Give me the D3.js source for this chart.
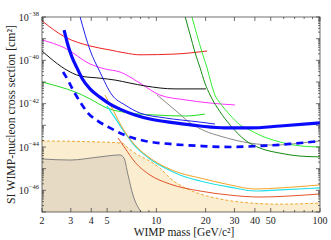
<!DOCTYPE html>
<html>
<head>
<meta charset="utf8">
<script src="https://cdn.jsdelivr.net/npm/d3@7"></script>
<style>
body { margin: 0; background: #fff; }
text { font-family: "Liberation Serif", "DejaVu Serif", serif; fill: #222; }
</style>
</head>
<body>
<div id="canvas"></div>
<script>
// limits, [mass GeV, sigma cm^2]
const red = [[2.0,6.6e-39],[2.76,1.2e-39],[3.93,4.6e-40],[5.21,3.0e-40],[6.43,2.2e-40],[7.94,1.8e-40],[13.0,1.95e-40],[20.4,2.7e-40]];
const magenta = [[2.0,8.7e-40],[2.76,3.7e-40],[3.93,6.8e-41],[4.85,4.0e-41],[5.99,2.9e-41],[7.94,8.9e-42],[10.5,2.5e-42],[15.0,1.5e-42],[21.3,1.07e-42],[30.2,8.7e-43]];
const black = [[2.0,2.7e-40],[2.24,1.29e-40],[2.76,4.0e-41],[3.42,1.9e-41],[4.52,1.5e-41],[5.59,1.23e-41],[6.90,8.9e-42],[8.52,6.6e-42],[13.0,4.8e-42],[20.1,4.8e-42]];
const green = [[2.0,1.0e-41],[2.58,5.9e-42],[3.18,3.5e-42],[3.93,1.66e-42],[4.99,6.3e-43],[6.90,3.7e-43],[9.81,3.0e-43],[15.0,2.7e-43],[19.8,3.3e-43]];
const blueThin = [[3.42,1.0e-38],[3.93,3.0e-40],[4.52,2.9e-41],[5.36,2.5e-42],[6.43,8.7e-43],[7.94,3.7e-43],[11.3,2.2e-43],[18.5,1.41e-43],[22.8,1.15e-43]];
const blueThick = [[2.73,2.5e-39],[2.88,5.1e-40],[3.05,1.41e-40],[3.27,4.5e-41],[3.51,1.5e-41],[3.93,4.8e-42],[4.52,2.0e-42],[5.21,9.5e-43],[5.99,5.6e-43],[7.40,3.0e-43],[9.14,1.95e-43],[13.0,1.29e-43],[18.5,9.3e-44],[26.3,7.6e-44],[37.4,7.6e-44],[57.0,9.3e-44],[100,1.29e-43]];
const blueDash = [[2.69,2.9e-41],[2.88,1.23e-41],[3.14,3.5e-42],[3.42,1.2e-42],[3.82,3.7e-43],[4.40,1.58e-43],[5.21,7.6e-44],[6.43,3.5e-44],[8.52,1.9e-44],[12.1,1.38e-44],[18.5,1.12e-44],[28.2,1.0e-44],[43.0,1.12e-44],[65.6,1.38e-44],[100,1.9e-44]];
const greenRight = [[16.5,1.0e-38],[17.7,1.48e-39],[19.0,2.4e-40],[20.4,4.5e-41],[21.6,8.9e-42],[22.8,2.5e-42],[24.5,1.07e-42],[28.2,3.0e-43],[32.4,1.05e-43],[37.4,6.0e-44],[43.0,3.5e-44],[57.0,1.7e-44],[75.5,1.12e-44],[100,1.0e-44]];
const darkGreen = [[15.0,1.0e-38],[16.1,1.48e-39],[17.2,2.4e-40],[18.5,4.5e-41],[19.8,8.9e-42],[21.3,2.5e-42],[24.5,4.2e-43],[28.2,1.05e-43],[34.8,2.1e-44],[43.0,8.9e-45],[57.0,5.2e-45],[75.5,3.8e-45],[100,3.5e-45]];
const gray = [[10.1,2.5e-42],[13.0,5.1e-43],[16.1,1.29e-43],[19.8,5.5e-44],[24.5,3.2e-44],[37.4,1.51e-44],[53.1,1.23e-44],[75.5,1.51e-44],[100,1.9e-44]];
const orange = [[4.85,2.5e-42],[5.36,6.3e-43],[5.83,1.78e-43],[6.43,4.9e-44],[7.40,1.23e-44],[9.14,3.1e-45],[11.3,1.2e-45],[13.95,6.3e-46],[18.5,3.7e-46],[28.2,1.78e-46],[40.1,1.15e-46],[57.0,1.29e-46],[100,1.78e-46]];
const cyan = [[4.99,7.8e-43],[5.59,2.2e-43],[6.43,4.5e-44],[7.40,1.12e-44],[9.14,2.8e-45],[11.3,1.07e-45],[13.95,5.1e-46],[18.5,2.7e-46],[28.2,1.41e-46],[40.1,9.3e-47],[57.0,1.05e-46],[100,1.29e-46]];
const redOrange = [[5.83,2.6e-44],[6.43,8.9e-45],[7.40,2.0e-45],[9.14,5.1e-46],[12.1,1.95e-46],[18.5,9.3e-47],[28.2,6.0e-47],[43.0,4.9e-47],[65.6,5.5e-47],[100,6.8e-47]];
const floorDash = [[2.0,1.9e-44],[4.52,1.7e-44],[6.17,1.51e-44],[6.61,1.0e-44],[7.40,5.2e-45],[9.14,2.2e-45],[10.5,1.07e-45],[12.1,3.7e-46],[15.0,1.29e-46],[18.5,6.8e-47],[24.5,4.0e-47],[37.4,2.6e-47],[57.0,2.3e-47],[100,2.6e-47]];
const grayRegion = [[2.0,2.8e-45],[2.97,2.5e-45],[4.52,3.5e-45],[5.99,4.3e-45],[6.34,3.1e-45],[6.71,5.1e-46],[7.20,6.0e-47],[8.06,1.0e-47]];

const xTicks = [2,3,4,5,10,20,30,40,50,100];
const xMinor = [6,7,8,9,60,70,80,90];
const yLabelExp = [-38,-40,-42,-44,-46];

const W = 331, H = 240;
const m = {left: 42, right: 11, top: 17, bottom: 28};

const svg = d3.select("#canvas").append("svg")
    .attr("width", W).attr("height", H);

const x = d3.scaleLog().domain([2, 100]).range([m.left, W - m.right]);
const y = d3.scaleLog().domain([1e-47, 1e-38]).range([H - m.bottom, m.top]);

svg.append("clipPath").attr("id", "clip")
  .append("rect")
    .attr("x", m.left).attr("y", m.top)
    .attr("width", W - m.left - m.right).attr("height", H - m.top - m.bottom);

const plot = svg.append("g").attr("clip-path", "url(#clip)");

const line = d3.line()
    .x(d => x(d[0])).y(d => y(d[1]))
    .curve(d3.curveMonotoneX);

const area = d3.area()
    .x(d => x(d[0])).y0(y(1e-47)).y1(d => y(d[1]))
    .curve(d3.curveMonotoneX);

// excluded / background regions
plot.append("path").datum(floorDash).attr("d", area).attr("fill", "#faedd0");
plot.append("path").datum(grayRegion).attr("d", area).attr("fill", "#e6dac4");
plot.append("path").datum(grayRegion).attr("d", line)
    .attr("fill", "none").attr("stroke", "#777").attr("stroke-width", 0.9);
plot.append("path").datum(floorDash).attr("d", line)
    .attr("fill", "none").attr("stroke", "#f0a830").attr("stroke-width", 1)
    .attr("stroke-dasharray", "3,2");

const curves = [
    {d: red, c: "#f02020", w: 1},
    {d: magenta, c: "#ff33ff", w: 1},
    {d: black, c: "#111", w: 1},
    {d: green, c: "#22dd22", w: 1},
    {d: gray, c: "#8a8a8a", w: 1},
    {d: darkGreen, c: "#138a13", w: 1},
    {d: greenRight, c: "#33ee33", w: 1},
    {d: redOrange, c: "#e2552a", w: 1},
    {d: cyan, c: "#22e0e8", w: 1.2},
    {d: orange, c: "#f2a428", w: 1},
    {d: blueThin, c: "#2020ee", w: 1},
    {d: blueThick, c: "#0a0aff", w: 3.2},
    {d: blueDash, c: "#0a0aff", w: 2.7, dash: "7,5"}
];
curves.forEach(k => {
    plot.append("path").datum(k.d).attr("d", line)
        .attr("fill", "none").attr("stroke", k.c)
        .attr("stroke-width", k.w)
        .attr("stroke-dasharray", k.dash || null);
});

// frame and ticks on all sides
const x0 = m.left, x1 = W - m.right, y0 = H - m.bottom, y1 = m.top;
const ax = svg.append("g").attr("stroke", "#333").attr("stroke-width", 0.7);
ax.append("rect").attr("x", x0).attr("y", y1).attr("width", x1 - x0).attr("height", y0 - y1)
    .attr("fill", "none");

xTicks.forEach(v => {
    ax.append("line").attr("x1", x(v)).attr("x2", x(v)).attr("y1", y0).attr("y2", y0 - 4);
    ax.append("line").attr("x1", x(v)).attr("x2", x(v)).attr("y1", y1).attr("y2", y1 + 4);
});
xMinor.forEach(v => {
    ax.append("line").attr("x1", x(v)).attr("x2", x(v)).attr("y1", y0).attr("y2", y0 - 2);
    ax.append("line").attr("x1", x(v)).attr("x2", x(v)).attr("y1", y1).attr("y2", y1 + 2);
});
y.ticks().forEach(v => {
    const major = Math.abs(Math.log10(v) - Math.round(Math.log10(v))) < 1e-6;
    const len = major ? 4 : 2;
    ax.append("line").attr("x1", x0).attr("x2", x0 + len).attr("y1", y(v)).attr("y2", y(v));
    ax.append("line").attr("x1", x1).attr("x2", x1 - len).attr("y1", y(v)).attr("y2", y(v));
});

svg.append("g").selectAll("text").data(xTicks).join("text")
    .attr("x", d => x(d)).attr("y", y0 + 12)
    .attr("text-anchor", "middle").attr("font-size", 10)
    .text(d => d);

const yl = svg.append("g").selectAll("text").data(yLabelExp).join("text")
    .attr("x", x0 - 3).attr("y", d => y(Math.pow(10, d)) + 3.5)
    .attr("text-anchor", "end").attr("font-size", 10);
yl.append("tspan").text("10");
yl.append("tspan").attr("dy", -4.5).attr("font-size", 6.5).text(d => "\u2212" + Math.abs(d));

svg.append("text")
    .attr("x", (x0 + x1) / 2 + 3).attr("y", H - 4)
    .attr("text-anchor", "middle").attr("font-size", 11.5)
    .text("WIMP mass [GeV/c\u00b2]");

svg.append("text")
    .attr("transform", `translate(15,${(y0 + y1) / 2}) rotate(-90)`)
    .attr("text-anchor", "middle").attr("font-size", 11.8)
    .text("SI WIMP-nucleon cross section [cm\u00b2]");
</script>
</body>
</html>
